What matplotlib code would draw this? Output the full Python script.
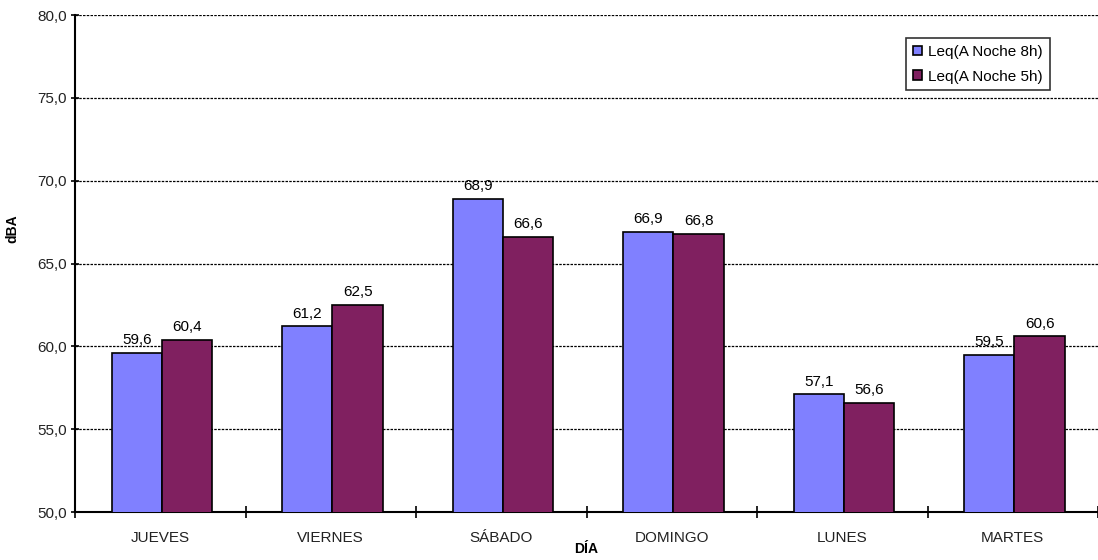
import matplotlib
matplotlib.use("Agg")
import matplotlib.pyplot as plt
import numpy as np

plt.rcParams['font.family'] = ['Liberation Sans', 'DejaVu Sans']

dias = ["JUEVES", "VIERNES", "SÁBADO", "DOMINGO", "LUNES", "MARTES"]
leq_8h = [59.6, 61.2, 68.9, 66.9, 57.1, 59.5]
leq_5h = [60.4, 62.5, 66.6, 66.8, 56.6, 60.6]
series_names = ["Leq(A Noche 8h)", "Leq(A Noche 5h)"]
colors = ["#8080FF", "#802060"]

fig = plt.figure(figsize=(10.98, 5.6), dpi=100)
ax = fig.add_axes([75 / 1098, 48 / 560, 1023 / 1098, 497 / 560])

x = np.arange(len(dias))
w = 0.295
b1 = ax.bar(x - w / 2 + 0.01, leq_8h, w, color=colors[0], edgecolor="black", linewidth=1.2,
            label=series_names[0], zorder=3)
b2 = ax.bar(x + w / 2 + 0.01, leq_5h, w, color=colors[1], edgecolor="black", linewidth=1.2,
            label=series_names[1], zorder=3)

for bars, vals in ((b1, leq_8h), (b2, leq_5h)):
    for r, v in zip(bars, vals):
        ax.text(r.get_x() + r.get_width() / 2, v + 0.35, f"{v:.1f}".replace(".", ","),
                ha="center", va="bottom", fontsize=11, color="black")

ax.set_ylim(50, 80)
ax.set_xlim(-0.5, len(dias) - 0.5)
yt = np.arange(50, 81, 5)
ax.set_yticks(yt)
ax.set_yticklabels([f"{v:.1f}".replace(".", ",") for v in yt], fontsize=11, color="#222222")
ax.set_xticks(x)
ax.set_xticklabels(dias, fontsize=11, color="#222222")
ax.tick_params(axis="x", which="major", length=0, pad=14)
ax.set_xticks(np.arange(-0.5, len(dias), 1.0), minor=True)
ax.tick_params(axis="x", which="minor", length=8, width=1.2, direction="inout")
ax.tick_params(axis="y", length=6, width=1.2, direction="inout", pad=3)

for yv in yt[1:]:
    ax.axhline(yv, color="black", linestyle=(0, (2, 1)), linewidth=0.9, zorder=1)

for s in ("top", "right"):
    ax.spines[s].set_visible(False)
ax.spines["left"].set_linewidth(1.5)
ax.spines["bottom"].set_linewidth(1.5)

ax.set_ylabel("dBA", fontsize=10, fontweight="bold")
ax.yaxis.set_label_coords(-(75 - 19) / 1023, (512 - 229) / 497)
ax.set_xlabel("DÍA", fontsize=10, fontweight="bold")
ax.xaxis.set_label_coords(0.5, -(542 - 512) / 497)

leg = ax.legend(loc="upper left", bbox_to_anchor=(831 / 1023, 1 - 23 / 497),
                fontsize=11, frameon=True, fancybox=False, edgecolor="black",
                handlelength=0.6, handleheight=0.6, handletextpad=0.4,
                borderpad=0.45, labelspacing=0.7, borderaxespad=0)
leg.get_frame().set_linewidth(1.2)
for h in leg.legend_handles:
    h.set_linewidth(1.2)

fig.savefig("out.png", dpi=100)
